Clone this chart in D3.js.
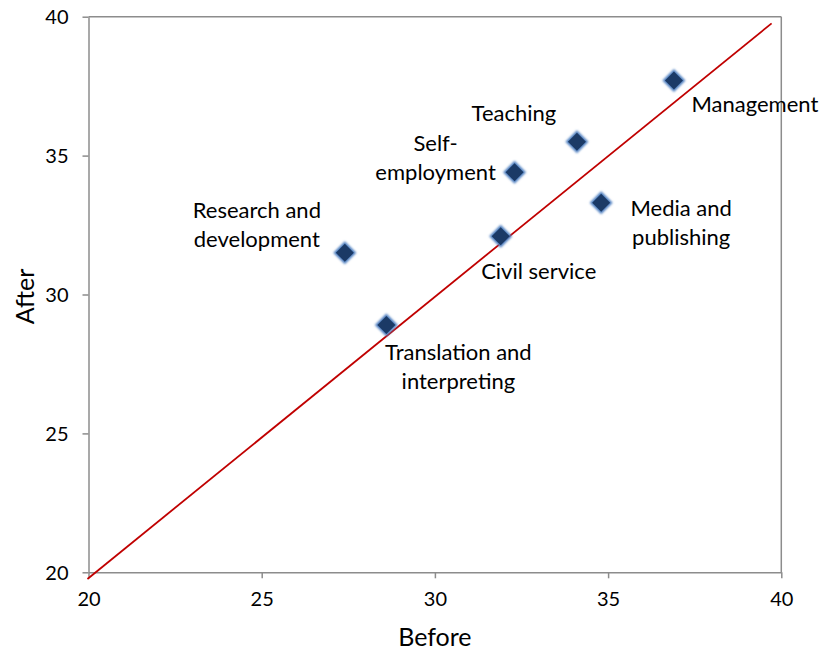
<!DOCTYPE html>
<html>
<head>
<meta charset="utf-8">
<script src="https://cdn.jsdelivr.net/npm/d3@7"></script>
<style>
  html, body { margin: 0; padding: 0; background: #fff; }
  svg { display: block; }
  text { font-family: Lato, "Open Sans", sans-serif; fill: #000; }
</style>
</head>
<body>
<svg id="chart" width="824" height="653"></svg>
<script>
// ---- data ----
const categories = ["Management", "Teaching", "Self-employment", "Media and publishing",
                    "Civil service", "Research and development", "Translation and interpreting"];
const before = [36.9, 34.1, 32.3, 34.8, 31.9, 27.4, 28.6];
const after  = [37.7, 35.5, 34.4, 33.3, 32.1, 31.5, 28.9];
const labelLines = [["Management"], ["Teaching"], ["Self-", "employment"], ["Media and", "publishing"],
                    ["Civil service"], ["Research and", "development"], ["Translation and", "interpreting"]];
const xTicks = [20, 25, 30, 35, 40];
const yTicks = [20, 25, 30, 35, 40];
const refLineX = [19.97, 39.72];
const refLineY = [19.76, 39.76];
const xTitle = "Before";
const yTitle = "After";

// ---- layout (label offsets in px from marker centre: dx, dy of first line) ----
const labelOffsets = [[81, 24], [-63, -28], [-79, -29], [80, 5], [38, 35], [-88, -43], [72, 27]];
const lineHeight = 29;

const svg = d3.select("#chart");
const pLeft = 88.5, pRight = 781.3, pTop = 16.7, pBottom = 572.3;
const x = d3.scaleLinear().domain([20, 40]).range([pLeft, pRight]);
const y = d3.scaleLinear().domain([20, 40]).range([pBottom, pTop]);

const defs = svg.append("defs");
const f = defs.append("filter").attr("id", "glow").attr("x", "-50%").attr("y", "-50%")
  .attr("width", "200%").attr("height", "200%");
f.append("feGaussianBlur").attr("stdDeviation", 1.1);

const axisColor = "#8c8c8c";

// plot border (top & right)
svg.append("line").attr("x1", pLeft).attr("x2", pRight).attr("y1", pTop).attr("y2", pTop)
  .attr("stroke", axisColor).attr("stroke-width", 1.5);
svg.append("line").attr("x1", pRight).attr("x2", pRight).attr("y1", pTop).attr("y2", pBottom)
  .attr("stroke", axisColor).attr("stroke-width", 1.5);

// axes
const xAxis = svg.append("g").attr("transform", `translate(0,${pBottom})`)
  .call(d3.axisBottom(x).tickValues(xTicks).tickSize(6).tickSizeOuter(0).tickPadding(14));
const yAxis = svg.append("g").attr("transform", `translate(${pLeft},0)`)
  .call(d3.axisLeft(y).tickValues(yTicks).tickSize(6).tickSizeOuter(0).tickPadding(14));
[xAxis, yAxis].forEach(g => {
  g.select(".domain").attr("stroke", axisColor).attr("stroke-width", 1.5);
  g.selectAll(".tick line").attr("stroke", axisColor).attr("stroke-width", 1.5);
  g.selectAll(".tick text").attr("font-size", 20).attr("font-family", "Lato, sans-serif").attr("fill", "#000");
});
yAxis.selectAll(".tick text").attr("dy", "0.35em");

// axis titles
svg.append("text").attr("x", (pLeft + pRight) / 2).attr("y", 646).attr("text-anchor", "middle")
  .attr("font-size", 25).text(xTitle);
svg.append("text").attr("transform", `translate(34,${(pTop + pBottom) / 2 + 2}) rotate(-90)`)
  .attr("text-anchor", "middle").attr("font-size", 25).text(yTitle);

// reference line
svg.append("line")
  .attr("x1", x(refLineX[0])).attr("y1", y(refLineY[0]))
  .attr("x2", x(refLineX[1])).attr("y2", y(refLineY[1]))
  .attr("stroke", "#c00000").attr("stroke-width", 1.8);

// markers
const pts = categories.map((c, i) => ({ c, bx: before[i], ay: after[i], lines: labelLines[i], off: labelOffsets[i] }));
const diamond = r => `M0,${-r}L${r},0L0,${r}L${-r},0Z`;
const mk = svg.append("g").selectAll("g").data(pts).join("g")
  .attr("transform", d => `translate(${x(d.bx)},${y(d.ay)})`);
mk.append("path").attr("d", diamond(11.5)).attr("fill", "#4f7fc0").attr("filter", "url(#glow)");
mk.append("path").attr("d", diamond(9)).attr("fill", "#1b3a66");

// labels
const lab = svg.append("g").selectAll("text").data(pts).join("text")
  .attr("text-anchor", "middle").attr("font-size", 22)
  .attr("x", d => x(d.bx) + d.off[0]).attr("y", d => y(d.ay) + d.off[1]);
lab.selectAll("tspan").data(d => d.lines.map((t, j) => ({ t, j, xx: x(d.bx) + d.off[0] })))
  .join("tspan").attr("x", t => t.xx).attr("dy", t => t.j === 0 ? "0.35em" : lineHeight)
  .text(t => t.t);
</script>
</body>
</html>
